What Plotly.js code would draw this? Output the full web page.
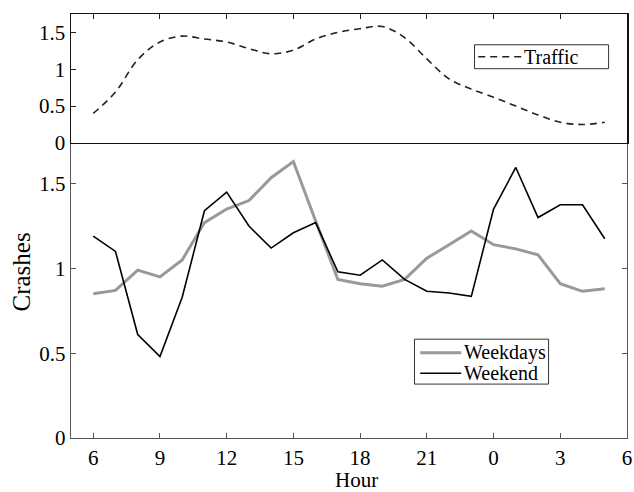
<!DOCTYPE html>
<html>
<head>
<meta charset="utf-8">
<script src="https://cdn.plot.ly/plotly-3.0.1.min.js"></script>
<style>html,body{margin:0;padding:0;background:#fff;}#chart{width:634px;height:492px;}</style>
</head>
<body>
<div id="chart"></div>
<script>
// Hours from 6 AM through 5 AM next day (values >23 are next-day hours)
var hours = [6,7,8,9,10,11,12,13,14,15,16,17,18,19,20,21,22,23,24,25,26,27,28,29];
var tickHours = [6,9,12,15,18,21,24,27,30];
var tickLabels = ['6','9','12','15','18','21','0','3','6'];

var traffic = [0.40,0.69,1.13,1.37,1.45,1.41,1.37,1.28,1.21,1.26,1.41,1.50,1.55,1.58,1.43,1.14,0.87,0.73,0.62,0.50,0.38,0.28,0.25,0.28];
var weekdays = [0.85,0.87,0.99,0.95,1.05,1.27,1.35,1.40,1.535,1.63,1.28,0.935,0.91,0.895,0.935,1.06,1.14,1.22,1.14,1.115,1.08,0.91,0.865,0.88];
var weekend = [1.19,1.10,0.61,0.48,0.83,1.34,1.45,1.25,1.12,1.21,1.27,0.98,0.96,1.05,0.935,0.865,0.855,0.835,1.35,1.595,1.30,1.375,1.375,1.175];

var yTicks = [0,0.5,1,1.5];
var yTickLabels = ['0','0.5','1','1.5'];

var FAMILY = '"Liberation Serif", "Times New Roman", serif';
var font = {family: FAMILY, size: 21, color: '#000'};
var legendFont = {family: FAMILY, size: 20, color: '#000'};

var styles = {
  Traffic: {color: '#222', width: 1.6, dash: '7px,5px'},
  Weekdays: {color: '#999', width: 3},
  Weekend: {color: '#000', width: 1.6}
};

var data = [
  {x: hours, y: traffic, type: 'scatter', mode: 'lines', name: 'Traffic',
   xaxis: 'x2', yaxis: 'y2',
   line: Object.assign({shape: 'spline', smoothing: 1}, styles.Traffic)},
  {x: hours, y: weekdays, type: 'scatter', mode: 'lines', name: 'Weekdays',
   xaxis: 'x', yaxis: 'y', line: styles.Weekdays},
  {x: hours, y: weekend, type: 'scatter', mode: 'lines', name: 'Weekend',
   xaxis: 'x', yaxis: 'y', line: styles.Weekend}
];

// plot area in pixels, used to place the hand-drawn legends and titles
var M = {l: 71, r: 7.3, t: 13.5, b: 53.7};
var PW = 634 - M.l - M.r, PH = 492 - M.t - M.b;
function px(x) { return (x - M.l) / PW; }
function py(y) { return 1 - (y - M.t) / PH; }

var shapes = [], annotations = [];
function addLegend(box, items) {
  shapes.push({type: 'rect', xref: 'paper', yref: 'paper', layer: 'above',
    x0: px(box[0]), x1: px(box[1]), y0: py(box[2]), y1: py(box[3]),
    line: {color: '#333', width: 1}, fillcolor: '#fff'});
  items.forEach(function (it) {
    var st = styles[it.name];
    shapes.push({type: 'line', xref: 'paper', yref: 'paper', layer: 'above',
      x0: px(it.x0), x1: px(it.x1), y0: py(it.y), y1: py(it.y),
      line: {color: st.color, width: st.width, dash: st.dash || 'solid'}});
    annotations.push({xref: 'paper', yref: 'paper', x: px(it.x1 + 1), y: py(it.y),
      xanchor: 'left', yanchor: 'middle', text: it.name, showarrow: false,
      font: legendFont});
  });
}
addLegend([474.3, 608.3, 44.3, 68.3], [{name: 'Traffic', x0: 478, x1: 521, y: 56.3}]);
addLegend([414.3, 548.3, 339.3, 384.3], [
  {name: 'Weekdays', x0: 420, x1: 461, y: 353},
  {name: 'Weekend', x0: 420, x1: 461, y: 373.5}
]);

// axis titles
annotations.push({xref: 'paper', yref: 'paper', x: px(21.5), y: py(272),
  xanchor: 'center', yanchor: 'middle', textangle: -90, text: 'Crashes',
  showarrow: false, font: {family: FAMILY, size: 25, color: '#000'}});
annotations.push({xref: 'paper', yref: 'paper', x: px(356), y: py(480),
  xanchor: 'center', yanchor: 'middle', text: 'Hour', borderpad: 0,
  showarrow: false, font: {family: FAMILY, size: 21, color: '#000'}});

var bottomDomain = 0.696;

var layout = {
  width: 634, height: 492,
  margin: M,
  paper_bgcolor: '#fff', plot_bgcolor: '#fff',
  font: font,
  showlegend: false,
  xaxis: {
    domain: [0, 1], anchor: 'y', range: [5, 30],
    tickmode: 'array', tickvals: tickHours, ticktext: tickLabels,
    ticks: 'inside', ticklen: 5, tickcolor: '#555', tickwidth: 1,
    ticklabelstandoff: 0,
    showline: true, linecolor: '#555', linewidth: 1.3, mirror: false,
    showgrid: false, zeroline: false,
    tickfont: font
  },
  yaxis: {
    domain: [0, bottomDomain], anchor: 'x', range: [0, 1.74],
    tickmode: 'array', tickvals: yTicks, ticktext: yTickLabels,
    ticks: 'inside', ticklen: 5, tickcolor: '#555', tickwidth: 1,
    showline: true, linecolor: '#555', linewidth: 1.3, mirror: 'ticks',
    showgrid: false, zeroline: false,
    tickfont: font
  },
  xaxis2: {
    domain: [0, 1], anchor: 'y2', range: [5, 30], side: 'top',
    tickmode: 'array', tickvals: tickHours, ticktext: tickLabels,
    showticklabels: false,
    ticks: 'inside', ticklen: 5, tickcolor: '#222', tickwidth: 1,
    showline: true, linecolor: '#111', linewidth: 1.5, mirror: true,
    showgrid: false, zeroline: false
  },
  yaxis2: {
    domain: [bottomDomain, 1], anchor: 'x2', range: [0, 1.75],
    tickmode: 'array', tickvals: yTicks, ticktext: yTickLabels,
    ticks: 'inside', ticklen: 5, tickcolor: '#222', tickwidth: 1,
    showline: true, linecolor: '#111', linewidth: 1.5, mirror: true,
    showgrid: false, zeroline: false,
    tickfont: font
  },
  shapes: shapes,
  annotations: annotations
};

Plotly.newPlot('chart', data, layout, {displayModeBar: false, staticPlot: true});
</script>
</body>
</html>
